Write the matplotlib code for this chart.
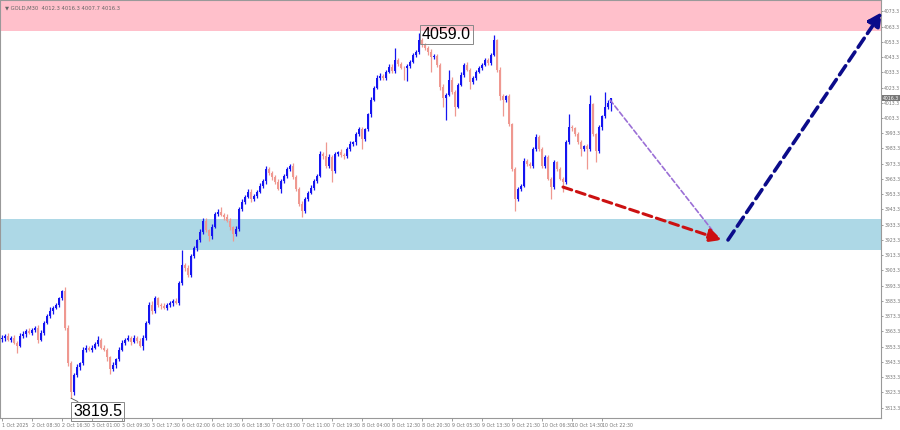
import matplotlib.pyplot as plt
import matplotlib.transforms as mtransforms
import numpy as np

# GOLD M30 candles (open of each bar = previous close)
first_open = 3858.0
closes = [
    3859.2, 3860.5, 3857.9, 3859.2, 3856.0, 3854.0, 3860.5, 3861.8, 3863.8, 3862.5,
    3864.4, 3865.7, 3857.9, 3862.5, 3869.0, 3873.5, 3876.8, 3878.7, 3880.7, 3885.2,
    3889.8, 3865.7, 3842.9, 3823.4, 3834.5, 3839.7, 3842.3, 3851.4, 3852.7, 3851.4,
    3852.7, 3855.3, 3857.9, 3852.7, 3851.4, 3846.2, 3838.4, 3841.0, 3844.9, 3851.4,
    3856.0, 3857.9, 3859.2, 3856.6, 3859.2, 3857.3, 3854.0, 3859.2, 3869.0, 3880.7,
    3876.8, 3885.2, 3880.7, 3880.0, 3878.7, 3880.7, 3882.0, 3883.3, 3882.0, 3895.0,
    3906.7, 3904.8, 3900.2, 3912.6, 3917.8, 3923.0, 3928.8, 3936.0, 3929.5, 3925.6,
    3932.1, 3940.6, 3941.9, 3939.9, 3938.6, 3936.0, 3931.5, 3926.9, 3930.8, 3943.8,
    3948.4, 3951.6, 3954.9, 3950.3, 3952.3, 3954.9, 3958.8, 3962.0, 3969.8, 3967.2,
    3964.6, 3961.4, 3956.8, 3962.0, 3965.3, 3969.8, 3971.8, 3964.6, 3956.8, 3947.1,
    3942.5, 3950.3, 3954.2, 3957.5, 3962.0, 3965.3, 3979.6, 3978.4, 3971.8, 3977.7,
    3968.5, 3979.6, 3980.9, 3979.0, 3978.6, 3982.9, 3986.1, 3987.4, 3992.6, 3995.9,
    3989.4, 3995.9, 4005.6, 4015.4, 4023.2, 4029.7, 4031.0, 4029.7, 4033.6, 4036.9,
    4034.3, 4041.4, 4038.8, 4036.2, 4035.8, 4037.5, 4040.1, 4044.7, 4046.6, 4054.4,
    4051.2, 4049.2, 4046.6, 4043.4, 4044.0, 4038.2, 4023.9, 4016.7, 4018.7, 4028.4,
    4020.6, 4010.8, 4025.2, 4031.7, 4038.2, 4034.9, 4027.1, 4029.7, 4033.6, 4036.2,
    4038.2, 4041.4, 4039.5, 4044.7, 4054.4, 4034.9, 4017.4, 4015.4, 4017.4, 3999.1,
    3969.8, 3950.3, 3956.8, 3958.8, 3975.1, 3973.1, 3971.8, 3982.9, 3990.7, 3982.9,
    3971.8, 3977.7, 3963.3, 3958.1, 3974.4, 3969.8, 3963.3, 3961.4, 3987.4, 3997.2,
    3996.5, 3992.6, 3987.4, 3982.9, 3984.8, 3982.9, 4012.2, 3992.6, 3981.6, 3997.2,
    4004.3, 4010.2, 4013.4, 4016.3,
]
wick_up = [
    1.5, 1.2, 2.0, 1.0, 1.5, 1.0, 2.0, 1.5, 1.0, 1.8, 1.2, 1.0, 1.5, 2.0, 1.0, 1.5, 2.2, 1.0, 1.5, 1.0,
    0.6, 2.5, 2.0, 1.0, 1.5, 2.0, 1.2, 1.5, 2.0, 1.0, 1.5, 1.2, 2.5, 1.0, 1.5, 1.0, 1.2, 2.0, 1.0, 1.5,
    1.5, 1.0, 2.0, 1.2, 1.5, 1.0, 2.0, 1.5, 1.2, 1.8, 2.5, 1.5, 1.0, 1.5, 2.0, 1.2, 1.5, 1.0, 1.8, 1.5,
    10.0, 1.5, 2.0, 1.2, 1.5, 1.0, 1.8, 1.5, 2.0, 1.2, 1.5, 1.0, 2.0, 3.0, 1.2, 1.5, 2.0, 1.0, 1.5, 1.2,
    1.5, 1.0, 2.0, 1.5, 1.2, 1.0, 1.8, 1.5, 2.0, 1.2, 1.5, 1.0, 2.0, 1.5, 1.2, 1.5, 1.0, 2.0, 1.5, 1.2,
    1.5, 1.2, 1.0, 1.8, 1.5, 1.2, 2.0, 1.5, 9.0, 2.0, 1.5, 1.2, 1.0, 2.0, 1.5, 1.2, 1.8, 1.0, 1.5, 1.2,
    1.5, 1.0, 1.2, 1.5, 1.0, 2.0, 1.5, 1.2, 1.0, 1.8, 1.5, 7.8, 1.2, 1.5, 1.0, 1.5, 1.2, 1.0, 1.5, 4.6,
    1.5, 1.2, 1.0, 1.8, 1.5, 1.2, 1.0, 1.5, 1.2, 6.5, 1.5, 1.0, 1.2, 1.5, 1.0, 1.8, 1.5, 1.2, 1.0, 1.5,
    1.2, 1.5, 1.0, 1.5, 3.3, 1.0, 2.0, 1.5, 1.2, 1.5, 1.0, 1.2, 1.5, 1.0, 1.8, 1.5, 1.2, 1.5, 2.0, 1.2,
    1.5, 1.2, 1.0, 1.5, 1.2, 1.0, 1.5, 1.2, 1.5, 8.4, 1.2, 1.0, 1.5, 1.2, 1.0, 1.5, 6.5, 1.2, 1.0, 1.5,
    1.2, 10.4, 1.5, 0.0,
]
wick_dn = [
    1.5, 2.0, 1.0, 1.8, 1.2, 4.6, 1.0, 1.5, 2.0, 1.0, 1.5, 1.2, 2.5, 1.0, 1.5, 1.0, 1.2, 2.0, 1.0, 1.5,
    1.0, 1.5, 2.0, 3.9, 1.5, 1.0, 2.0, 1.2, 1.5, 1.0, 1.8, 1.2, 1.5, 1.0, 1.2, 2.0, 3.3, 1.0, 1.5, 1.2,
    1.2, 1.5, 1.0, 2.0, 1.2, 1.5, 1.0, 2.6, 1.5, 1.0, 2.0, 1.5, 1.2, 2.0, 1.0, 1.5, 1.2, 1.8, 1.0, 1.5,
    1.5, 2.0, 1.5, 1.0, 1.2, 1.5, 1.0, 1.8, 1.2, 3.3, 1.5, 1.0, 1.5, 1.2, 2.0, 1.0, 1.5, 4.0, 1.2, 1.5,
    1.2, 1.5, 1.0, 2.0, 1.5, 1.2, 1.0, 1.5, 1.8, 1.2, 2.0, 1.5, 1.0, 2.5, 1.2, 1.5, 1.0, 1.5, 1.2, 1.5,
    4.0, 1.5, 1.2, 1.0, 1.5, 1.2, 1.0, 1.8, 1.5, 1.2, 7.0, 1.5, 1.0, 1.2, 2.0, 1.5, 1.0, 1.2, 1.5, 1.0,
    6.5, 1.2, 1.0, 1.5, 1.2, 1.0, 1.5, 1.8, 1.2, 1.0, 1.5, 1.2, 1.5, 1.0, 7.4, 8.0, 1.2, 1.0, 1.5, 1.0,
    1.5, 1.2, 1.8, 10.0, 1.2, 1.5, 2.0, 6.0, 14.7, 1.2, 1.5, 6.5, 1.0, 1.2, 1.5, 1.0, 5.0, 1.2, 1.5, 1.0,
    1.5, 1.0, 1.2, 1.5, 1.0, 1.5, 2.0, 11.0, 1.5, 1.2, 1.5, 7.8, 1.2, 1.5, 1.0, 1.2, 1.5, 1.0, 1.2, 1.5,
    1.2, 1.5, 1.0, 7.8, 1.2, 1.5, 1.0, 6.5, 1.2, 1.0, 1.5, 1.2, 1.0, 4.6, 1.2, 13.0, 1.5, 1.0, 7.2, 1.2,
    1.5, 1.2, 1.0, 5.7,
]

# zones
resist_zone = (4060.4, 4090.0)
support_zone = (3916.7, 3937.0)

# forecast paths (bar index, price)
red_path = [(187, 3958.0), (240, 3923.3)]
purple_path = [(202.7, 4015.1), (236.7, 3929.8)]
navy_path = [(242, 3923.3), (293.3, 4072.8)]

# marked extremes
high_bar, high_price = 139, 4059.0
low_bar, low_price = 23, 3819.5
last_price = 4016.3

x_labels = ["1 Oct 2025", "2 Oct 08:30", "2 Oct 16:30", "3 Oct 01:00", "3 Oct 09:30",
            "3 Oct 17:30", "6 Oct 02:00", "6 Oct 10:30", "6 Oct 18:30", "7 Oct 03:00",
            "7 Oct 11:00", "7 Oct 19:30", "8 Oct 04:00", "8 Oct 12:30", "8 Oct 20:30",
            "9 Oct 05:30", "9 Oct 13:30", "9 Oct 21:30", "10 Oct 06:30", "10 Oct 14:30",
            "10 Oct 22:30"]

closes = np.array(closes)
opens = np.concatenate([[first_open], closes[:-1]])
highs = np.maximum(opens, closes) + np.array(wick_up)
lows = np.minimum(opens, closes) - np.array(wick_dn)
idx = np.arange(len(closes))

bull_c = "#1414f0"
bear_c = "#ef9890"
small_font = ["Liberation Sans Narrow", "DejaVu Sans"]

fig = plt.figure(figsize=(9, 4.3), dpi=100)
ax = fig.add_axes([0.0, 12 / 430, 881 / 900, 418 / 430])

ax.axhspan(*resist_zone, color="#ffc0cb", lw=0, zorder=0)
ax.axhspan(*support_zone, color="#add8e6", lw=0, zorder=0)

up = closes >= opens
for mask, col in ((~up, bear_c), (up, bull_c)):
    ax.vlines(idx[mask], lows[mask], highs[mask], color=col, lw=0.9, zorder=2)
    body = np.maximum(np.abs(closes[mask] - opens[mask]), 0.5)
    ax.bar(idx[mask], body, bottom=np.minimum(opens[mask], closes[mask]),
           width=0.72, color=col, lw=0, zorder=3)


# forecast arrows
def arrow(path, color, lw, head=True):
    (x0, y0), (x1, y1) = path
    style = "-|>,head_length=0.8,head_width=0.4" if head else "-"
    ax.annotate("", xy=(x1, y1), xytext=(x0, y0),
                arrowprops=dict(arrowstyle=style, color=color, lw=lw,
                                linestyle=(0, (3, 1.6)), shrinkA=0, shrinkB=0),
                zorder=5, annotation_clip=False)


arrow(purple_path, "#9b6fd6", 1.2, head=False)
arrow(red_path, "#cc1111", 2.2)
arrow(navy_path, "#0b0b8a", 2.6)

box = dict(boxstyle="square,pad=0.12", fc="none", ec="#888888", lw=0.7)
ax.annotate(f"{high_price:.1f}", xy=(high_bar, high_price), xytext=(2, -1),
            textcoords="offset points", ha="left", va="center",
            fontsize=11.5, family="Liberation Sans", bbox=box, zorder=6)
ax.annotate(f"{low_price:.1f}", xy=(low_bar, low_price), xytext=(1.5, -9.5),
            textcoords="offset points", ha="left", va="center",
            fontsize=11.5, family="Liberation Sans", bbox=box, zorder=6,
            arrowprops=dict(arrowstyle="-", color="#555555", lw=0.6, shrinkA=0, shrinkB=0))

ax.set_xlim(-0.67, 293.0)
ax.set_ylim(3806.5, 4080.7)

ax.yaxis.tick_right()
ax.set_yticks(np.arange(3813.3, 4075, 10))
ax.set_yticklabels([f"{v:.1f}" for v in np.arange(3813.3, 4075, 10)])
ax.set_xticks(np.arange(len(x_labels)) * 10)
ax.set_xticklabels(x_labels, ha="left")
ax.tick_params(axis="x", labelsize=3.4, colors="#777777", length=2, width=0.5, pad=1.5)
ax.tick_params(axis="y", labelsize=3.3, colors="#777777", length=1.5, width=0.5, pad=0.8)
for lab in ax.get_xticklabels() + ax.get_yticklabels():
    lab.set_family(small_font)
for sp in ax.spines.values():
    sp.set_color("#999999")
    sp.set_linewidth(0.8)

trans = mtransforms.blended_transform_factory(ax.transAxes, ax.transData)
ax.text(1.002, last_price, f"{last_price:.1f}", transform=trans, fontsize=3.3,
        family=small_font, color="white", va="center", ha="left",
        bbox=dict(boxstyle="square,pad=0.15", fc="#777777", ec="none"), zorder=7)

fig.text(0.006, 0.987, "\u25bc GOLD,M30  4012.3 4016.3 4007.7 4016.3",
         fontsize=3.8, color="#666666", va="top", family=small_font)

fig.savefig("out.png", dpi=100)
